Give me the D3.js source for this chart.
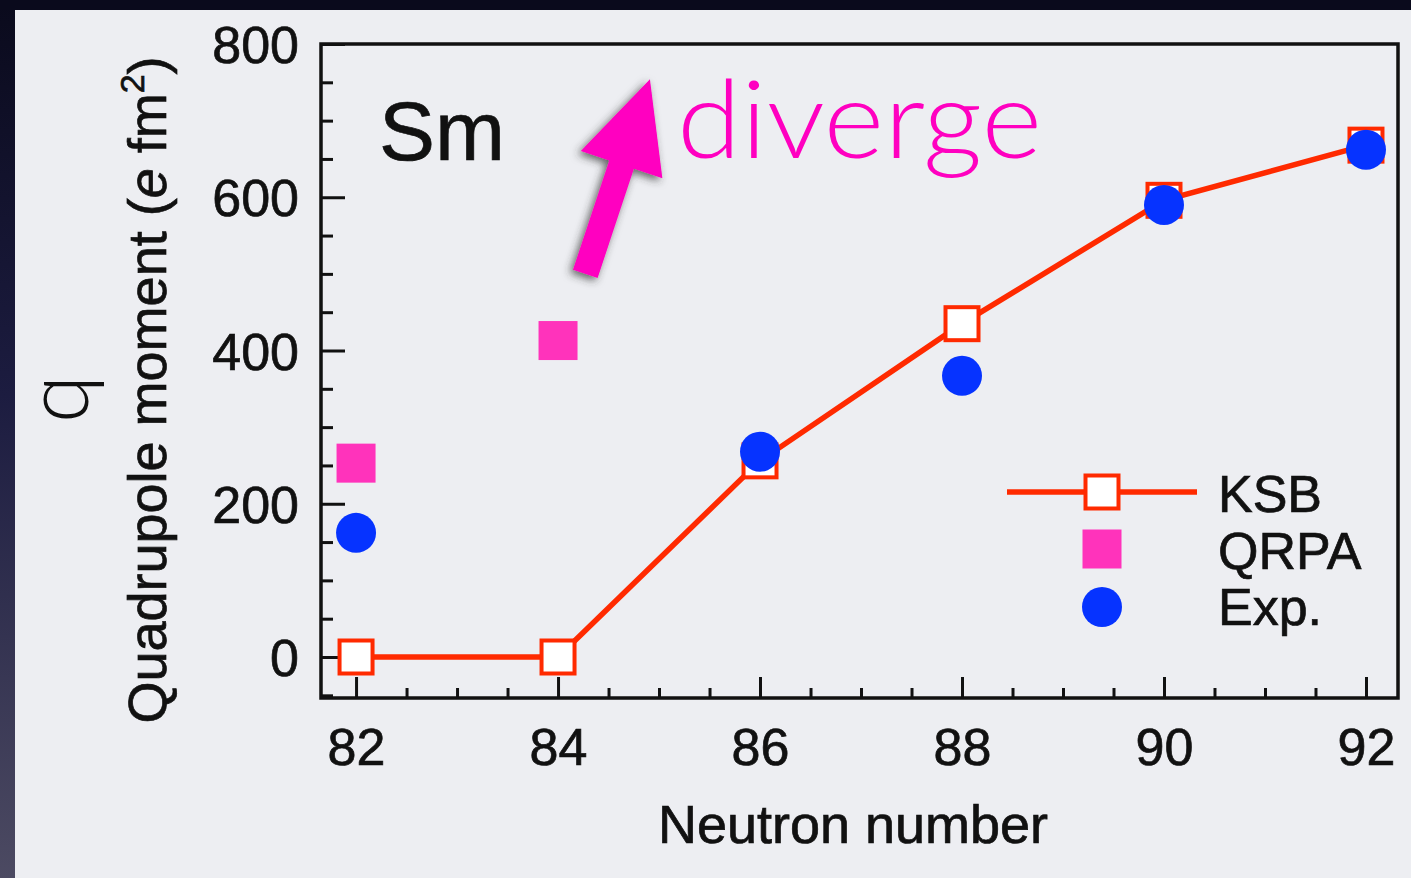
<!DOCTYPE html>
<html>
<head>
<meta charset="utf-8">
<script src="https://cdn.jsdelivr.net/npm/d3@7"></script>
<style>
  html, body { margin: 0; padding: 0; background: #0b0b1e; }
  svg { display: block; }
</style>
</head>
<body>
<svg id="chart" width="1411" height="878"></svg>
<script>
// Neutron numbers and quadrupole moments (e fm^2) for Sm isotopes
const ksbN   = [82, 84, 86, 88, 90, 92];
const ksbQ   = [0, 0, 256, 435, 596, 668];
const qrpaN  = [82, 84];
const qrpaQ  = [253, 413];
const expN   = [82, 86, 88, 90, 92];
const expQ   = [162, 268, 367, 590, 662];

const xMajorTicks = [82, 84, 86, 88, 90, 92];
const yMajorTicks = [0, 200, 400, 600, 800];
const legendLabels = ["KSB", "QRPA", "Exp."];

const W = 1411, H = 878;
const frame = { left: 321, top: 44, right: 1398, bottom: 698 };

const svg = d3.select("#chart");
const defs = svg.append("defs");

// dark backdrop with a slight vertical gradient on the left edge
const bg = defs.append("linearGradient").attr("id", "bgGrad")
  .attr("x1", 0).attr("y1", 0).attr("x2", 0).attr("y2", 1);
bg.append("stop").attr("offset", "0%").attr("stop-color", "#0a0a1c");
bg.append("stop").attr("offset", "45%").attr("stop-color", "#1c1c40");
bg.append("stop").attr("offset", "100%").attr("stop-color", "#4c4a62");
svg.append("rect").attr("width", W).attr("height", H).attr("fill", "url(#bgGrad)");
svg.append("rect").attr("x", 0).attr("y", 0).attr("width", W).attr("height", 10).attr("fill", "#0a0a1c");
svg.append("rect").attr("x", 15).attr("y", 10).attr("width", W - 15).attr("height", H - 10).attr("fill", "#edeef2");

const shadow = defs.append("filter").attr("id", "arrowShadow")
  .attr("x", "-50%").attr("y", "-50%").attr("width", "200%").attr("height", "200%");
shadow.append("feDropShadow").attr("dx", -3).attr("dy", 3).attr("stdDeviation", 4)
  .attr("flood-color", "#333").attr("flood-opacity", 0.75);

// scales
const x = d3.scaleLinear().domain([81.653, 92.317]).range([frame.left, frame.right]);
const y = d3.scaleLinear().domain([-53.5, 800]).range([frame.bottom, frame.top]);

const font = "'Liberation Sans', Arial, Helvetica, sans-serif";
const axisColor = "#111";
const ink = "#111";
// slightly heavier text rendering
const textStroke = sel => sel.attr("stroke", ink).attr("stroke-width", 0.7);

// x axis: major ticks with labels, minor ticks every 0.5
const xMinor = d3.range(82, 92.01, 0.5).filter(v => !xMajorTicks.includes(v));
const xAxisMinor = svg.append("g").attr("transform", `translate(0,${frame.bottom})`)
  .call(d3.axisBottom(x).tickValues(xMinor).tickSize(-10).tickFormat(""));
const xAxisMajor = svg.append("g").attr("transform", `translate(0,${frame.bottom})`)
  .call(d3.axisBottom(x).tickValues(xMajorTicks).tickSize(-21).tickPadding(0).tickFormat(d3.format("d")));
[xAxisMinor, xAxisMajor].forEach(g => {
  g.select(".domain").remove();
  g.selectAll("line").attr("stroke", axisColor).attr("stroke-width", 3);
});
xAxisMajor.selectAll("text")
  .attr("y", 67).attr("dy", 0)
  .attr("font-family", font).attr("font-size", 52).attr("fill", ink)
  .call(textStroke);

// y axis: major ticks every 200, minor every 50
const yMinor = d3.range(-50, 800, 50).filter(v => !yMajorTicks.includes(v));
const yAxisMinor = svg.append("g").attr("transform", `translate(${frame.left},0)`)
  .call(d3.axisLeft(y).tickValues(yMinor).tickSize(-12).tickFormat(""));
const yAxisMajor = svg.append("g").attr("transform", `translate(${frame.left},0)`)
  .call(d3.axisLeft(y).tickValues(yMajorTicks).tickSize(-24).tickFormat(d3.format("d")));
[yAxisMinor, yAxisMajor].forEach(g => {
  g.select(".domain").remove();
  g.selectAll("line").attr("stroke", axisColor).attr("stroke-width", 3);
});
yAxisMajor.selectAll("text")
  .attr("x", -22).attr("dy", "0.36em")
  .attr("font-family", font).attr("font-size", 52).attr("fill", ink)
  .call(textStroke);

// plot frame
svg.append("rect")
  .attr("x", frame.left).attr("y", frame.top)
  .attr("width", frame.right - frame.left).attr("height", frame.bottom - frame.top)
  .attr("fill", "none").attr("stroke", axisColor).attr("stroke-width", 3.5);

// axis titles
svg.append("text")
  .attr("x", 853).attr("y", 843)
  .attr("text-anchor", "middle")
  .attr("font-family", font).attr("font-size", 54).attr("fill", ink)
  .call(textStroke)
  .text("Neutron number");

const yTitle = svg.append("text")
  .attr("transform", "translate(166,390) rotate(-90)")
  .attr("text-anchor", "middle")
  .attr("font-family", font).attr("font-size", 54).attr("fill", ink)
  .call(textStroke);
yTitle.append("tspan").text("Quadrupole moment (");
yTitle.append("tspan").attr("font-style", "italic").text("e");
yTitle.append("tspan").text(" fm");
yTitle.append("tspan").attr("font-size", 34).attr("dy", -22).text("2");
yTitle.append("tspan").attr("dy", 22).text(")");

svg.append("text")
  .attr("transform", "translate(88,399) rotate(-90)")
  .attr("text-anchor", "middle")
  .attr("font-family", "Lato, 'Noto Sans', sans-serif").attr("font-weight", 300)
  .attr("font-size", 88).attr("fill", ink)
  .text("q");

// element label
svg.append("text")
  .attr("x", 379).attr("y", 160)
  .attr("font-family", font).attr("font-size", 84).attr("fill", ink)
  .call(textStroke)
  .text("Sm");

// colours
const red = "#ff2a00", pink = "#ff33bb", blue = "#0633ff", magenta = "#ff00c0";

// KSB line and open squares
const ksb = ksbN.map((n, i) => ({ n, q: ksbQ[i] }));
svg.append("path").datum(ksb)
  .attr("d", d3.line().x(d => x(d.n)).y(d => y(d.q)))
  .attr("fill", "none").attr("stroke", red).attr("stroke-width", 5.5);
const sq = 33;
svg.append("g").selectAll("rect").data(ksb).join("rect")
  .attr("x", d => x(d.n) - sq / 2).attr("y", d => y(d.q) - sq / 2)
  .attr("width", sq).attr("height", sq)
  .attr("fill", "#fff").attr("stroke", red).attr("stroke-width", 4);

// QRPA filled squares
const qsq = 39;
const qrpa = qrpaN.map((n, i) => ({ n, q: qrpaQ[i] }));
svg.append("g").selectAll("rect").data(qrpa).join("rect")
  .attr("x", d => x(d.n) - qsq / 2).attr("y", d => y(d.q) - qsq / 2)
  .attr("width", qsq).attr("height", qsq)
  .attr("fill", pink);

// experimental points
const exp = expN.map((n, i) => ({ n, q: expQ[i] }));
svg.append("g").selectAll("circle").data(exp).join("circle")
  .attr("cx", d => x(d.n)).attr("cy", d => y(d.q)).attr("r", 20)
  .attr("fill", blue);

// legend
const lg = svg.append("g").attr("transform", "translate(1102,492)");
lg.append("line").attr("x1", -95).attr("x2", 95).attr("y1", 0).attr("y2", 0)
  .attr("stroke", red).attr("stroke-width", 5.5);
lg.append("rect").attr("x", -sq / 2).attr("y", -sq / 2).attr("width", sq).attr("height", sq)
  .attr("fill", "#fff").attr("stroke", red).attr("stroke-width", 4);
lg.append("rect").attr("x", -qsq / 2).attr("y", 57 - qsq / 2).attr("width", qsq).attr("height", qsq)
  .attr("fill", pink);
lg.append("circle").attr("cx", 0).attr("cy", 115).attr("r", 20).attr("fill", blue);
lg.selectAll("text.lab").data(legendLabels).join("text")
  .attr("class", "lab")
  .attr("x", 116).attr("y", (d, i) => 20 + i * 56.5)
  .attr("font-family", font).attr("font-size", 52).attr("fill", ink)
  .call(textStroke)
  .text(d => d);

// "diverge" annotation arrow, anchored in data space
const tail = [84.27, 500], tip = [84.91, 754];
const p0 = [x(tail[0]), y(tail[1])], p1 = [x(tip[0]), y(tip[1])];
const dx = p1[0] - p0[0], dy = p1[1] - p0[1];
const len = Math.hypot(dx, dy);
const ux = dx / len, uy = dy / len, nx = -uy, ny = ux;
const headLen = 90, headHalf = 43, shaftHalf = 13;
const bx = p1[0] - ux * headLen, by = p1[1] - uy * headLen;
const arrowPts = [
  p1,
  [bx + nx * headHalf, by + ny * headHalf],
  [bx + nx * shaftHalf, by + ny * shaftHalf],
  [p0[0] + nx * shaftHalf, p0[1] + ny * shaftHalf],
  [p0[0] - nx * shaftHalf, p0[1] - ny * shaftHalf],
  [bx - nx * shaftHalf, by - ny * shaftHalf],
  [bx - nx * headHalf, by - ny * headHalf]
];
svg.append("path")
  .attr("d", d3.line()(arrowPts) + "Z")
  .attr("fill", magenta)
  .attr("filter", "url(#arrowShadow)");

svg.append("text")
  .attr("x", 677).attr("y", 158)
  .attr("font-family", "Lato, 'Noto Sans', sans-serif").attr("font-weight", 300)
  .attr("font-size", 108).attr("fill", magenta)
  .attr("textLength", 365).attr("lengthAdjust", "spacingAndGlyphs")
  .text("diverge");
</script>
</body>
</html>
